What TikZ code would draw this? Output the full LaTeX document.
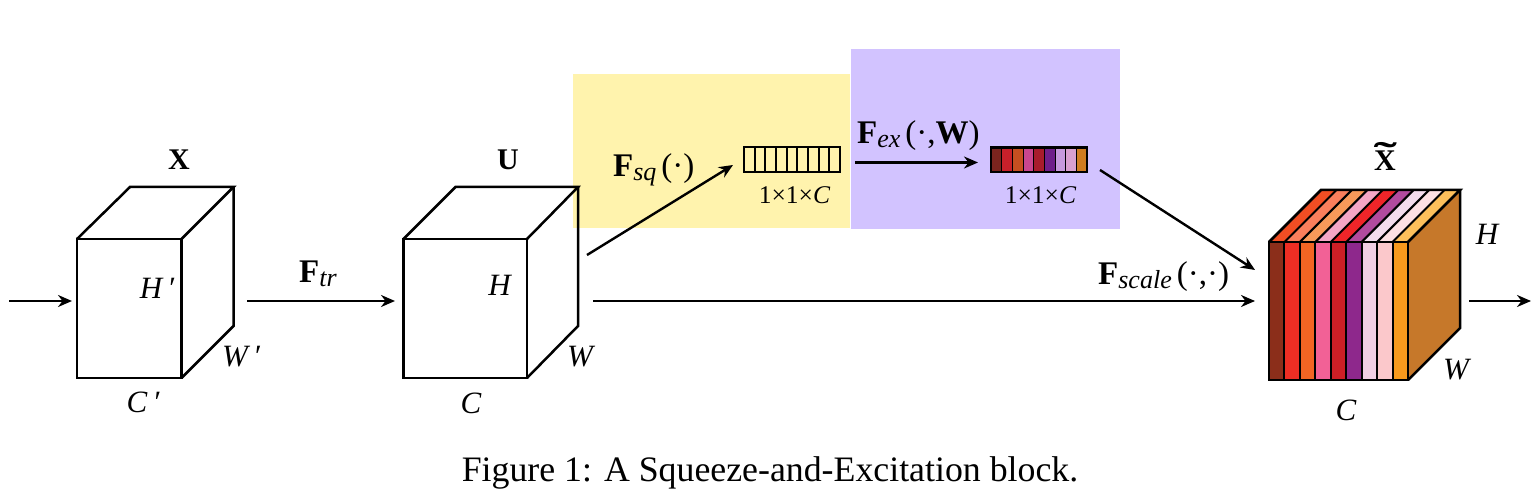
\documentclass[tikz,border=0pt]{standalone}
\usepackage{fontspec}
\usepackage{graphicx}
\setmainfont{Liberation Serif}
\usetikzlibrary{arrows.meta}
\definecolor{sqbg}{HTML}{FFF3AD}
\definecolor{exbg}{HTML}{D2C3FF}
\definecolor{sidec}{HTML}{C6782A}
\newcommand{\fsub}[1]{\raisebox{-4pt}{\fontsize{26}{28}\selectfont\itshape #1}}
\tikzset{
  cubeedge/.style={line width=2.5pt,black,line join=miter},
  conn/.style={line width=2.4pt,-{Stealth[length=14pt,width=12pt]},black},
  lab/.style={inner sep=0pt,font=\fontsize{31}{34}\selectfont\itshape},
  boldlab/.style={inner sep=0pt,font=\fontsize{30}{32}\selectfont},
  flab/.style={inner sep=0pt,font=\fontsize{33}{36}\selectfont},
  dimlab/.style={inner sep=0pt,font=\fontsize{25.5}{28}\selectfont},
  captext/.style={inner sep=0pt,font=\fontsize{35.8}{38}\selectfont},
}
\newcommand{\cube}[9]{%
  % x0 x1 y0 y1 bx0 bx1 by0 by1 name
  \draw[cubeedge] (#1,#3) rectangle (#2,#4);
  \draw[cubeedge] (#1,#3) -- (#5,#7) -- (#6,#7) -- (#2,#3);
  \draw[cubeedge] (#6,#7) -- (#6,#8) -- (#2,#4);
}
\begin{document}
\begin{tikzpicture}[x=1pt,y=-1pt]
\useasboundingbox (0,0) rectangle (1539,494);
\fill[white] (0,0) rectangle (1539,494);
% backgrounds
\fill[sqbg] (573,74) rectangle (850,228);
\fill[exbg] (851,49) rectangle (1120,229);
% cubes
\cube{77}{181.5}{239}{378}{130}{233.5}{187}{326}{X}
\cube{403.5}{527}{239}{378}{455.5}{578}{187}{326}{U}
% coordinates
\coordinate (inL) at (9,301);
\coordinate (inR) at (72,301);
\coordinate (trL) at (247,301);
\coordinate (trR) at (395,301);
\coordinate (scL) at (593,301);
\coordinate (scR) at (1255,301);
\coordinate (sqL) at (587,255);
\coordinate (sqR) at (733,165);
\coordinate (exL) at (855,162.5);
\coordinate (exR) at (978,162.5);
\coordinate (fsL) at (1100,170);
\coordinate (fsR) at (1255,270);
\coordinate (outL) at (1469,301);
\coordinate (outR) at (1531,301);
% small bars
\foreach \i in {0,...,8} {
  \draw[line width=2pt] ({744+\i*10.67},147.5) rectangle ({744+(\i+1)*10.67},172);
}
\foreach \c [count=\i from 0] in {7A241E,C8202A,C64F20,C9468F,A81C2C,701F8A,C79ADD,D9A0CF,D07C20} {
  \definecolor{tmpc}{HTML}{\c}
  \fill[tmpc] ({991+\i*10.67},147.5) rectangle ({991+(\i+1)*10.67},172);
  \draw[line width=1pt] ({991+\i*10.67},147.5) -- ({991+\i*10.67},172);
}
\draw[line width=2.2pt] (991,147.5) rectangle (1087,172);
% striped cube
\fill[sidec] (1408,242) -- (1460,190) -- (1460,328) -- (1408,380) -- cycle;
\foreach \c [count=\i from 0] in {F04E23,F97F5C,F79A5A,F4A6C6,EE2529,B24A9E,F3DCEC,FDE0E3,FDBF5B} {
  \definecolor{tmpc}{HTML}{\c}
  \fill[tmpc] ({1269+\i*15.44},242) -- ({1321+\i*15.44},190) -- ({1321+(\i+1)*15.44},190) -- ({1269+(\i+1)*15.44},242) -- cycle;
}
\foreach \c [count=\i from 0] in {8B2E1A,EE2E24,F36523,F26196,CC1F26,8E288C,F0CEE3,FBC8CB,F8991D} {
  \definecolor{tmpc}{HTML}{\c}
  \fill[tmpc] ({1269+\i*15.44},242) rectangle ({1269+(\i+1)*15.44},380);
  \draw[line width=2pt] ({1269+\i*15.44},242) -- ({1269+\i*15.44},380);
  \draw[line width=2pt] ({1269+\i*15.44},242) -- ({1321+\i*15.44},190);
}
\cube{1269}{1408}{242}{380}{1321}{1460}{190}{328}{Xt}
% connectors
\draw[conn] (inL) -- (inR);
\draw[conn] (trL) -- (trR);
\draw[conn] (scL) -- (scR);
\draw[conn] (sqL) -- (sqR);
\draw[conn] (exL) -- (exR);
\draw[conn] (fsL) -- (fsR);
\draw[conn] (outL) -- (outR);
% labels
\node[boldlab,anchor=base] (tX) at (179,170) {\textbf{X}};
\node[boldlab,anchor=base] (tU) at (508,170) {\textbf{U}};
\node[boldlab,anchor=base] (tXt) at (1385,171) {\textbf{X}\llap{\makebox[21pt][c]{\raisebox{3pt}{\scalebox{2.3}[1.2]{\textbf{\char"02DC}}}}}};
\node[lab] (h1) at (157,288) {H\,′};
\node[lab] (w1) at (241,357) {W\,′};
\node[lab] (c1) at (143,402) {C\,′};
\node[lab] (h2) at (499.5,285) {H};
\node[lab] (w2) at (580,357) {W};
\node[lab] (c2) at (471,403) {C};
\node[lab] (h3) at (1487,234) {H};
\node[lab] (w3) at (1456,370) {W};
\node[lab] (c3) at (1346,410) {C};
\node[flab,anchor=base west] (ftr) at (299,283) {\textbf{F}\fsub{tr}};
\node[flab,anchor=base west] (fsq) at (613,177) {\textbf{F}\fsub{sq}\hspace{5pt}(·)};
\node[flab,anchor=base west] (fex) at (857,144) {\textbf{F}\fsub{ex}\hspace{5pt}(·,\textbf{W})};
\node[flab,anchor=base west] (fsc) at (1098,285) {\textbf{F}\fsub{scale}\hspace{5pt}(·,·)};
\node[dimlab] (d1) at (794.5,195) {1×1×\textit{C}};
\node[dimlab] (d2) at (1040.5,195) {1×1×\textit{C}};
\node[captext,anchor=base] (caption) at (770,481) {Figure 1: A Squeeze-and-Excitation block.};
\end{tikzpicture}
\end{document}
